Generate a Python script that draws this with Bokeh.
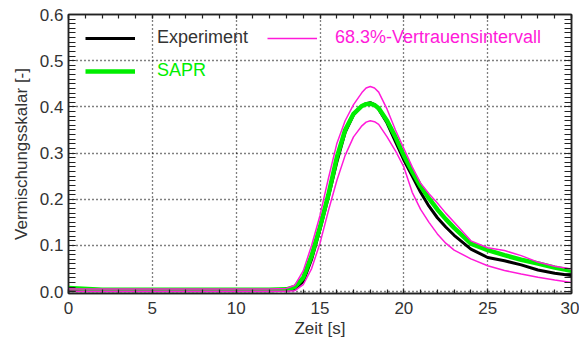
from bokeh.plotting import figure
from bokeh.models import (LinearAxis, FixedTicker, Range1d, Legend, LegendItem)
from bokeh.embed import file_html
from bokeh.resources import INLINE

# ---- data ----
t = [0, 2, 4, 6, 8, 10, 12, 13, 13.5, 14, 14.5, 15, 15.5, 16, 16.5, 17, 17.5, 17.75, 18,
     18.25, 18.5, 19, 19.5, 20, 20.5, 21, 21.5, 22, 22.5, 23, 24, 25, 26, 27, 28, 29, 30]
experiment = [0.002, 0.002, 0.002, 0.002, 0.002, 0.002, 0.002, 0.003, 0.006, 0.022, 0.07,
              0.135, 0.205, 0.28, 0.345, 0.383, 0.402, 0.407, 0.409, 0.405, 0.395, 0.365,
              0.325, 0.285, 0.25, 0.215, 0.185, 0.16, 0.14, 0.122, 0.092, 0.074, 0.067,
              0.058, 0.047, 0.040, 0.035]
sapr = [0.008, 0.004, 0.004, 0.004, 0.004, 0.004, 0.004, 0.005, 0.010, 0.030, 0.078, 0.14,
        0.21, 0.29, 0.35, 0.385, 0.402, 0.406, 0.407, 0.404, 0.397, 0.37, 0.335, 0.295,
        0.26, 0.228, 0.202, 0.178, 0.157, 0.138, 0.104, 0.090, 0.079, 0.069, 0.061, 0.052,
        0.045]
ci_upper = [0.006, 0.006, 0.006, 0.006, 0.006, 0.006, 0.006, 0.007, 0.014, 0.045, 0.10,
            0.165, 0.245, 0.32, 0.37, 0.405, 0.431, 0.441, 0.444, 0.441, 0.432, 0.395,
            0.35, 0.31, 0.27, 0.235, 0.212, 0.192, 0.17, 0.15, 0.11, 0.095, 0.089, 0.078,
            0.064, 0.055, 0.049]
ci_lower = [0.001, 0.001, 0.001, 0.001, 0.001, 0.001, 0.001, 0.001, 0.002, 0.015, 0.05,
            0.105, 0.175, 0.24, 0.295, 0.335, 0.359, 0.367, 0.370, 0.368, 0.362, 0.335,
            0.305, 0.27, 0.215, 0.178, 0.15, 0.125, 0.105, 0.09, 0.071, 0.056, 0.046,
            0.038, 0.031, 0.025, 0.020]

x_ticks = [0, 5, 10, 15, 20, 25, 30]
x_tick_labels = ["0", "5", "10", "15", "20", "25", "30"]
y_ticks = [0.0, 0.1, 0.2, 0.3, 0.4, 0.5, 0.6]
y_tick_labels = ["0.0", "0.1", "0.2", "0.3", "0.4", "0.5", "0.6"]

label_experiment = "Experiment"
label_sapr = "SAPR"
label_ci = "68.3%-Vertrauensintervall"
x_label = "Zeit [s]"
y_label = "Vermischungsskalar [-]"

# ---- style ----
FONT = "Liberation Sans"
TXT = "#333333"
BLACK = "#000000"
GREEN = "#00ee00"
MAGENTA = "#ff1ad9"

p = figure(frame_width=503, frame_height=279, output_backend="svg",
           toolbar_location=None,
           x_range=Range1d(0, 30), y_range=Range1d(-0.004, 0.6),
           min_border_left=68, min_border_right=8, min_border_top=14,
           min_border_bottom=45)
p.background_fill_color = "white"
p.border_fill_color = "white"
p.outline_line_color = "#222222"
p.outline_line_width = 1.5

x_minor = [i for i in range(0, 31)]
y_minor = [round(i * 0.01, 2) for i in range(0, 61)]

def style_axis(ax, ticks, minor, tick_in, labels=None):
    ax.ticker = FixedTicker(ticks=ticks, minor_ticks=minor)
    ax.axis_line_color = "#222222"
    ax.axis_line_width = 1.5
    ax.major_tick_in = tick_in
    ax.major_tick_out = 0
    ax.minor_tick_in = tick_in
    ax.minor_tick_out = 0
    ax.major_tick_line_color = "#222222"
    ax.minor_tick_line_color = "#222222"
    ax.major_tick_line_width = 1.2
    ax.minor_tick_line_width = 1.2
    if labels is None:
        labels = ["" for _ in ticks]
        ax.major_label_standoff = 0
    ax.major_label_overrides = {tk: lb for tk, lb in zip(ticks, labels)}
    ax.major_label_text_font = FONT
    ax.major_label_text_font_size = "17px"
    ax.major_label_text_color = TXT

xa = p.xaxis[0]
style_axis(xa, x_ticks, x_minor, 4, x_tick_labels)
xa.major_label_standoff = 8
xa.axis_label = x_label
xa.axis_label_text_font = FONT
xa.axis_label_text_font_size = "17px"
xa.axis_label_text_font_style = "normal"
xa.axis_label_text_color = TXT
xa.axis_label_standoff = 2

ya = p.yaxis[0]
style_axis(ya, y_ticks, y_minor, 7, y_tick_labels)
ya.major_label_standoff = 5
ya.axis_label = y_label
ya.axis_label_text_font = FONT
ya.axis_label_text_font_size = "17px"
ya.axis_label_text_font_style = "normal"
ya.axis_label_text_color = TXT
ya.axis_label_standoff = 6

top = LinearAxis()
style_axis(top, x_ticks, x_minor, 4)
p.add_layout(top, "above")
right = LinearAxis()
style_axis(right, y_ticks, y_minor, 7)
p.add_layout(right, "right")

p.xgrid.ticker = FixedTicker(ticks=x_ticks)
p.ygrid.ticker = FixedTicker(ticks=y_ticks)
for g in (p.xgrid[0], p.ygrid[0]):
    g.grid_line_color = "black"
    g.grid_line_dash = "1 3"
    g.grid_line_width = 1.3

r_exp = p.line(t, experiment, line_color=BLACK, line_width=3)
r_sapr = p.line(t, sapr, line_color=GREEN, line_width=4.5)
r_up = p.line(t, ci_upper, line_color=MAGENTA, line_width=1.5)
r_lo = p.line(t, ci_lower, line_color=MAGENTA, line_width=1.5)

def make_legend(item, loc, color, standoff):
    lg = Legend(items=[item], location=loc, orientation="vertical",
                padding=0, margin=0, spacing=0,
                glyph_width=50, glyph_height=20, label_height=20,
                label_standoff=standoff,
                label_text_font=FONT, label_text_font_size="18px",
                label_text_color=color,
                border_line_alpha=0, background_fill_alpha=0)
    p.add_layout(lg, "center")
    return lg

make_legend(LegendItem(label=label_experiment, renderers=[r_exp]), (17, 245), TXT, 22)
make_legend(LegendItem(label=label_sapr, renderers=[r_sapr]), (17, 212), GREEN, 22)
make_legend(LegendItem(label=label_ci, renderers=[r_up]), (199, 245), MAGENTA, 18)

open("out.html", "w").write(file_html(p, INLINE))
